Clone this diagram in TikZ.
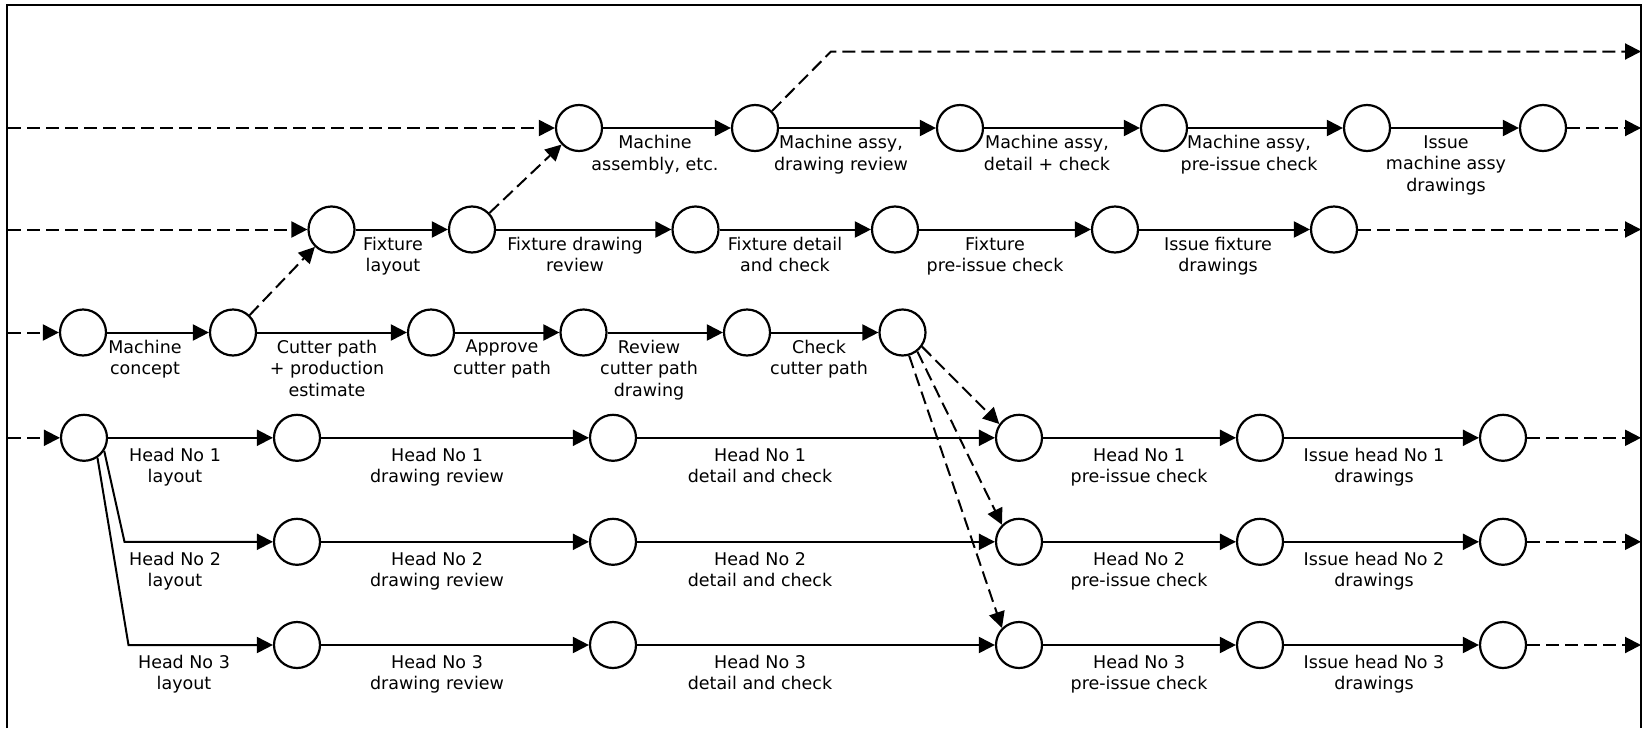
\documentclass[tikz,border=0pt]{standalone}
\usepackage{fontspec}
\setmainfont{DejaVu Sans}
\usetikzlibrary{arrows.meta}
\begin{document}
\begin{tikzpicture}[x=1pt,y=-1pt,
  ev/.style={circle,draw,line width=2.2pt,minimum size=46pt,inner sep=0pt},
  arr/.style={line width=2pt,-{Triangle[length=16pt,width=16pt]}},
  darr/.style={arr,dash pattern=on 13pt off 6pt},
  lbl/.style={anchor=north,inner sep=0pt,align=center,font=\fontsize{17.5}{21.7}\selectfont},
]
\useasboundingbox (0,0) rectangle (1645,728);
\draw[line width=1.3pt] (7,728) -- (7,5) -- (1641,5) -- (1641,728);

% row 1
\foreach \n/\x in {a/579,b/755,c/960,d/1164,e/1367,f/1543}
  \node[ev] (r1\n) at (\x,128) {};
% row 2
\foreach \n/\x in {a/331.5,b/472,c/695.5,d/895,e/1115,f/1334}
  \node[ev] (r2\n) at (\x,229.5) {};
% row 3
\foreach \n/\x in {a/83,b/233,c/431,d/583.5,e/747,f/902.5}
  \node[ev] (r3\n) at (\x,332.5) {};
% rows 4-6
\node[ev] (r4a) at (84,437.8) {};
\foreach \r/\y in {4/437.8,5/541.8,6/645}
  \foreach \n/\x in {b/297,c/613,d/1019,e/1260,f/1503}
    \node[ev] (r\r\n) at (\x,\y) {};

% free ends
\coordinate (in1) at (8,128);
\coordinate (in2) at (8,229.5);
\coordinate (in3) at (8,332.5);
\coordinate (in4) at (8,437.8);
\coordinate (bend0) at (831,51.5);
\coordinate (out0) at (1641,51.5);
\coordinate (out1) at (1641,128);
\coordinate (out2) at (1641,229.5);
\coordinate (out4) at (1641,437.8);
\coordinate (out5) at (1641,541.8);
\coordinate (out6) at (1641,645);
\coordinate (bend5) at (124.5,541.8);
\coordinate (bend6) at (128.5,645);

% incoming dashed
\draw[darr] (in1) -- (r1a);
\draw[darr] (in2) -- (r2a);
\draw[darr] (in3) -- (r3a);
\draw[darr] (in4) -- (r4a);

% row 0
\draw[darr] (r1b.45) -- (bend0) -- (out0);
% row 1
\draw[arr] (r1a) -- (r1b);
\draw[arr] (r1b) -- (r1c);
\draw[arr] (r1c) -- (r1d);
\draw[arr] (r1d) -- (r1e);
\draw[arr] (r1e) -- (r1f);
\draw[darr] (r1f) -- (out1);
% row 2
\draw[arr] (r2a) -- (r2b);
\draw[arr] (r2b) -- (r2c);
\draw[arr] (r2c) -- (r2d);
\draw[arr] (r2d) -- (r2e);
\draw[arr] (r2e) -- (r2f);
\draw[darr] (r2f) -- (out2);
% row 3
\draw[arr] (r3a) -- (r3b);
\draw[arr] (r3b) -- (r3c);
\draw[arr] (r3c) -- (r3d);
\draw[arr] (r3d) -- (r3e);
\draw[arr] (r3e) -- (r3f);
% cross links
\draw[darr] (r3b) -- (r2a);
\draw[darr] (r2b) -- (r1a);
\draw[darr] (r3f.-36) -- (r4d.145);
\draw[darr] (r3f.-52) -- (r5d.135);
\draw[darr] (r3f.-74) -- (r6d.135);
% head rows
\draw[arr] (r4a) -- (r4b);
\draw[arr] (r4a.-33) -- (bend5) -- (r5b);
\draw[arr] (r4a.-56) -- (bend6) -- (r6b);
\foreach \r in {4,5,6}{
  \draw[arr] (r\r b) -- (r\r c);
  \draw[arr] (r\r c) -- (r\r d);
  \draw[arr] (r\r d) -- (r\r e);
  \draw[arr] (r\r e) -- (r\r f);
  \draw[darr] (r\r f) -- (out\r);
}

% labels row 1
\node[lbl] (l1a) at (655,135.2) {Machine\\assembly, etc.};
\node[lbl] (l1b) at (841,135.2) {Machine assy,\\drawing review};
\node[lbl] (l1c) at (1047,135.2) {Machine assy,\\detail + check};
\node[lbl] (l1d) at (1249,135.2) {Machine assy,\\pre-issue check};
\node[lbl] (l1e) at (1446,135.2) {Issue\\machine assy\\drawings};
% labels row 2
\node[lbl] (l2a) at (393,236.7) {Fixture\\layout};
\node[lbl] (l2b) at (575,236.7) {Fixture drawing\\review};
\node[lbl] (l2c) at (785,236.7) {Fixture detail\\and check};
\node[lbl] (l2d) at (995,236.7) {Fixture\\pre-issue check};
\node[lbl] (l2e) at (1218,236.7) {Issue fixture\\drawings};
% labels row 3
\node[lbl] (l3a) at (145,339.7) {Machine\\concept};
\node[lbl] (l3b) at (327,339.7) {Cutter path\\+ production\\estimate};
\node[lbl] (l3c) at (502,339.7) {Approve\\cutter path};
\node[lbl] (l3d) at (649,339.7) {Review\\cutter path\\drawing};
\node[lbl] (l3e) at (819,339.7) {Check\\cutter path};
% labels head rows
\foreach \r/\y/\lx in {1/447.5/175,2/551.5/175,3/654.7/184}{
  \node[lbl] at (\lx,\y) {Head No \r\\layout};
  \node[lbl] at (437,\y) {Head No \r\\drawing review};
  \node[lbl] at (760,\y) {Head No \r\\detail and check};
  \node[lbl] at (1139,\y) {Head No \r\\pre-issue check};
  \node[lbl] at (1374,\y) {Issue head No \r\\drawings};
}
\end{tikzpicture}
\end{document}
